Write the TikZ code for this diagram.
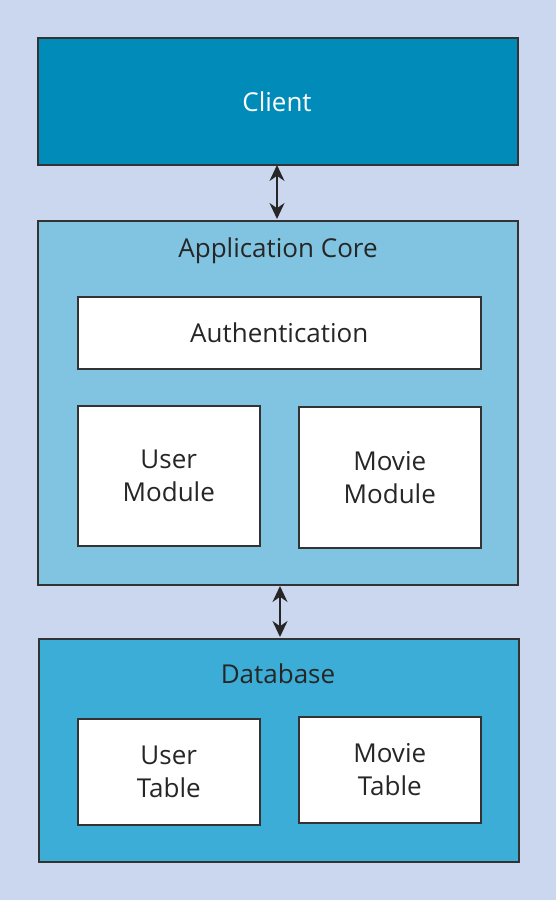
\documentclass[tikz,border=0pt]{standalone}
\usepackage{fontspec}
\setmainfont{Open Sans}
\usetikzlibrary{arrows.meta}
\definecolor{bg}{HTML}{CBD7EE}
\definecolor{clientc}{HTML}{008BB8}
\definecolor{corec}{HTML}{80C4E2}
\definecolor{dbc}{HTML}{3CADD6}
\definecolor{edge}{HTML}{333333}
\begin{document}
\begin{tikzpicture}[x=1pt,y=-1pt,
  box/.style={draw=edge,line width=1.5pt,inner sep=0pt,anchor=north west},
  wbox/.style={box,fill=white,align=center,font=\fontsize{26}{33}\selectfont,text=black!85},
  lbl/.style={font=\fontsize{26}{33}\selectfont,text=black!85},
  arr/.style={draw=black!85,line width=2pt,{Stealth[length=16pt,width=15pt]}-{Stealth[length=16pt,width=15pt]}}]
\fill[bg] (0,0) rectangle (556,900);
\useasboundingbox (0,0) rectangle (556,900);
% Client
\node[box,fill=clientc,minimum width=480pt,minimum height=127pt] (client) at (37,37) {};
\node[lbl,text=white] (clientl) at (277,102) {Client};
% Application core
\node[box,fill=corec,minimum width=480pt,minimum height=364pt] (core) at (37,220) {};
\node[lbl] (corel) at (278,251) {Application Core};
\node[wbox,minimum width=403pt,minimum height=72pt] (auth) at (77,296) {Authentication};
\node[wbox,minimum width=182pt,minimum height=140pt] (um) at (77,405) {User\\Module};
\node[wbox,minimum width=182pt,minimum height=141pt] (mm) at (298,406) {Movie\\Module};
% Database
\node[box,fill=dbc,minimum width=480pt,minimum height=223pt] (db) at (38,638) {};
\node[lbl] (dbl) at (278,674) {Database};
\node[wbox,minimum width=182pt,minimum height=106pt] (ut) at (77,718) {User\\Table};
\node[wbox,minimum width=182pt,minimum height=106pt] (mt) at (298,716) {Movie\\Table};
% arrows
\coordinate (a1) at (277,165);
\coordinate (a2) at (277,219);
\coordinate (b1) at (280,586);
\coordinate (b2) at (280,637);
\draw[arr] (a1) -- (a2);
\draw[arr] (b1) -- (b2);
\end{tikzpicture}
\end{document}
